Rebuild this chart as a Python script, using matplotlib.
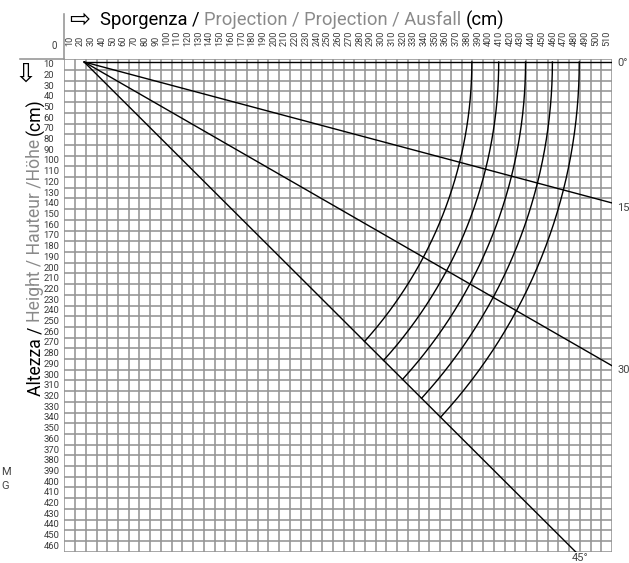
import numpy as np
import matplotlib
matplotlib.use("Agg")
import matplotlib.pyplot as plt
from matplotlib.lines import Line2D

# ---- data ----
x_ticks = list(range(10, 520, 10))
y_ticks = list(range(10, 470, 10))
angles_deg = [0, 15, 30, 45]
angle_labels = ["0°", "15", "30", "45°"]
line_origin = (18.5, 2.5)
arc_center = (-11.5, 2.5)
arc_radii = [391, 416, 441, 466, 491]

W, H = 629, 563
fig = plt.figure(figsize=(W / 100, H / 100), dpi=100)
L, R, T, B = 64.3, 612.0, 59.3, 551.7
ax = fig.add_axes([L / W, 1 - B / H, (R - L) / W, (B - T) / H])
ax.set_xlim(0, 510)
ax.set_ylim(460, 0)
ax.set_xticks([])
ax.set_yticks([])
for s in ax.spines.values():
    s.set_visible(False)

gcol = "#949494"
for x in range(0, 520, 10):
    ax.axvline(x, color=gcol, lw=1.15, zorder=1)
for y in range(0, 470, 10):
    ax.axhline(y, color=gcol, lw=1.15, zorder=1)

# extended axis lines
fig.add_artist(Line2D([20 / W, L / W], [1 - T / H, 1 - T / H], color=gcol, lw=1.15))
fig.add_artist(Line2D([L / W, L / W], [1 - 14 / H, 1 - T / H], color=gcol, lw=1.15))

# angle lines
ox, oy = line_origin
for a in angles_deg:
    r = np.radians(a)
    ax.plot([ox, ox + 900 * np.cos(r)], [oy, oy + 900 * np.sin(r)], color="black", lw=1.0, zorder=3)

# arcs from 0° line to 45° line
cx, cy = arc_center
d = np.array([np.cos(np.radians(45)), np.sin(np.radians(45))])
for rad in arc_radii:
    px, py = ox - cx, oy - cy
    b = 2 * (px * d[0] + py * d[1])
    c = px ** 2 + py ** 2 - rad ** 2
    t = (-b + np.sqrt(b * b - 4 * c)) / 2
    ex, ey = ox + t * d[0], oy + t * d[1]
    a_end = np.arctan2(ey - cy, ex - cx)
    th = np.linspace(0, a_end, 200)
    ax.plot(cx + rad * np.cos(th), cy + rad * np.sin(th), color="black", lw=1.0, zorder=3)

# tick labels
tcol = "#3a3a3a"
tf = "Roboto"
for v in x_ticks:
    xp = (L + (v - 5) * (R - L) / 510) / W
    fig.text(xp, 1 - 45.5 / H, str(v), rotation=90, ha="center", va="bottom",
             fontsize=6.6, color=tcol, family=tf)
for v in y_ticks:
    yp = 1 - (T + (v - 5) * (B - T) / 460) / H
    fig.text(43.5 / W, yp, str(v), ha="left", va="center", fontsize=6.8, color=tcol, family=tf)
fig.text(54 / W, 1 - 46 / H, "0", ha="center", va="center", fontsize=7, color=tcol, family=tf)

# angle labels
alpos = [(617, 63), (617, 208), (617, 370), (580, 558)]
for (xx, yy), lab in zip(alpos, angle_labels):
    ha = "left" if lab != "45°" else "center"
    fig.text(xx / W, 1 - yy / H, lab, ha=ha, va="center", fontsize=8, color="#444", family=tf)

# arrows
fig.text(80 / W, 1 - 20 / H, "⇨", ha="center", va="center", fontsize=18, color="black", family="DejaVu Sans")
fig.text(26 / W, 1 - 75 / H, "⇩", ha="center", va="center", fontsize=19, color="black", family="DejaVu Sans")

# multi-colour title pieces
fig.canvas.draw()
rend = fig.canvas.get_renderer()

def seq_text(pieces, x0, y0, rotation=0, fs=12):
    pos = x0 if rotation == 0 else y0
    for txt, col in pieces:
        if rotation == 0:
            t = fig.text(pos / W, 1 - y0 / H, txt, ha="left", va="center", fontsize=fs, color=col, family=tf)
            bb = t.get_window_extent(rend)
            pos += bb.width
        else:
            t = fig.text(x0 / W, 1 - pos / H, txt, ha="center", va="bottom", rotation=90,
                         fontsize=fs, color=col, family=tf)
            bb = t.get_window_extent(rend)
            pos -= bb.height

gray = "#8a8a8a"
seq_text([("Sporgenza / ", "black"), ("Projection / Projection / Ausfall ", gray), ("(cm)", "black")],
         100, 20, fs=13.2)
seq_text([("Altezza / ", "black"), ("Height / Hauteur /Höhe ", gray), ("(cm)", "black")],
         35, 396, rotation=90, fs=12.7)

fig.text(1 / W, 1 - 472 / H, "M", ha="left", va="center", fontsize=8, color="#444", family=tf)
fig.text(1 / W, 1 - 486 / H, "G", ha="left", va="center", fontsize=8, color="#444", family=tf)

fig.savefig("out.png", dpi=100)
